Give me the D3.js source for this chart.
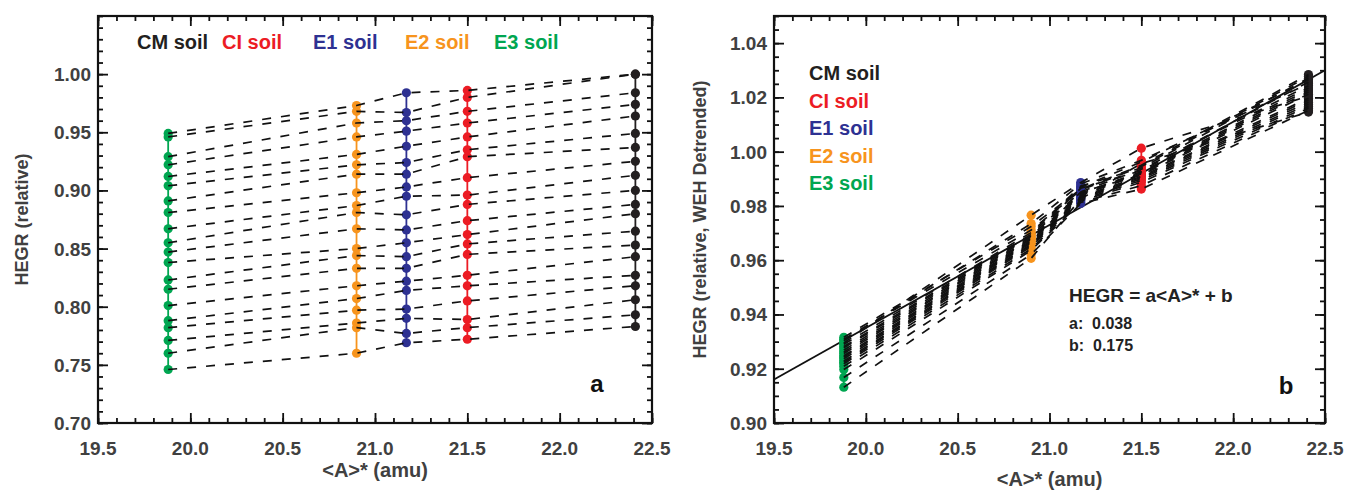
<!DOCTYPE html>
<html>
<head>
<meta charset="utf-8">
<script src="https://cdn.jsdelivr.net/npm/d3@7"></script>
<style>
  body { margin: 0; background: #fff; }
  svg { display: block; }
  text { font-family: "Liberation Sans", Arial, Helvetica, sans-serif; font-weight: bold; white-space: pre; }
</style>
</head>
<body>
<svg id="fig" width="1345" height="492"></svg>
<script>
// Soil standards: names, colours and mean atomic mass <A>* (amu)
const soils = ["CM soil", "CI soil", "E1 soil", "E2 soil", "E3 soil"];
const soilColors = ["#231f20", "#ec1c24", "#2e3192", "#f7941d", "#00a651"];
const soilA = [22.41, 21.50, 21.17, 20.90, 19.88];

// Panel a: relative HEGR, one value per measurement set (20 sets) for each soil
const hegrCM = [1.000, 1.000, 0.984, 0.974, 0.964, 0.949, 0.937, 0.925, 0.913, 0.900, 0.888, 0.880, 0.865, 0.853, 0.843, 0.827, 0.818, 0.806, 0.793, 0.783];
const hegrCI = [0.986, 0.980, 0.968, 0.958, 0.946, 0.935, 0.929, 0.911, 0.896, 0.888, 0.874, 0.862, 0.854, 0.845, 0.827, 0.818, 0.805, 0.789, 0.782, 0.772];
const hegrE1 = [0.984, 0.967, 0.960, 0.951, 0.938, 0.924, 0.914, 0.903, 0.895, 0.879, 0.866, 0.855, 0.843, 0.833, 0.822, 0.814, 0.798, 0.790, 0.777, 0.769];
const hegrE2 = [0.973, 0.968, 0.958, 0.946, 0.931, 0.922, 0.914, 0.898, 0.887, 0.881, 0.867, 0.850, 0.844, 0.833, 0.818, 0.807, 0.797, 0.786, 0.782, 0.760];
const hegrE3 = [0.949, 0.946, 0.929, 0.922, 0.912, 0.904, 0.891, 0.881, 0.867, 0.855, 0.847, 0.838, 0.823, 0.815, 0.801, 0.788, 0.782, 0.771, 0.760, 0.746];

// Panel b: relative HEGR after WEH detrending (same 20 measurement sets)
const detCM = [1.0205, 1.0284, 1.0278, 1.0250, 1.0271, 1.0265, 1.0243, 1.0257, 1.0235, 1.0227, 1.0220, 1.0212, 1.0197, 1.0190, 1.0182, 1.0175, 1.0167, 1.0160, 1.0152, 1.0146];
const detCI = [1.0013, 0.9950, 0.9945, 0.9968, 0.9940, 0.9962, 0.9935, 0.9930, 0.9926, 0.9922, 0.9918, 0.9914, 0.9909, 0.9905, 0.9900, 0.9894, 0.9887, 0.9875, 0.9862, 0.9956];
const detE1 = [0.9886, 0.9862, 0.9858, 0.9881, 0.9873, 0.9869, 0.9852, 0.9865, 0.9847, 0.9843, 0.9839, 0.9851, 0.9835, 0.9831, 0.9827, 0.9822, 0.9818, 0.9813, 0.9809, 0.9826];
const detE2 = [0.9766, 0.9724, 0.9711, 0.9735, 0.9702, 0.9695, 0.9690, 0.9686, 0.9681, 0.9677, 0.9672, 0.9668, 0.9664, 0.9659, 0.9655, 0.9650, 0.9642, 0.9636, 0.9621, 0.9607];
const detE3 = [0.9295, 0.9316, 0.9309, 0.9303, 0.9290, 0.9282, 0.9277, 0.9269, 0.9262, 0.9256, 0.9248, 0.9243, 0.9237, 0.9229, 0.9224, 0.9218, 0.9209, 0.9197, 0.9168, 0.9132];

// Linear fit HEGR = a<A>* + b
const fitA = 0.038;
const fitB = 0.175;

// Axis ticks
const xMajor = [19.5, 20.0, 20.5, 21.0, 21.5, 22.0, 22.5];
const xLabels = ["19.5", "20.0", "20.5", "21.0", "21.5", "22.0", "22.5"];
const yMajorA = [0.70, 0.75, 0.80, 0.85, 0.90, 0.95, 1.00];
const yLabelsA = ["0.70", "0.75", "0.80", "0.85", "0.90", "0.95", "1.00"];
const yMajorB = [0.90, 0.92, 0.94, 0.96, 0.98, 1.00, 1.02, 1.04];
const yLabelsB = ["0.90", "0.92", "0.94", "0.96", "0.98", "1.00", "1.02", "1.04"];

const svg = d3.select("#fig");
const ink = "#111";
const labelInk = "#404040";

function steps(lo, hi, st) {
  const out = [];
  const n = Math.round((hi - lo) / st);
  for (let i = 0; i <= n; i++) out.push(+(lo + i * st).toFixed(4));
  return out;
}

function drawPanel(opt) {
  const g = svg.append("g");
  const x = d3.scaleLinear().domain([19.5, 22.5]).range([opt.left, opt.right]);
  const y = d3.scaleLinear().domain(opt.yDomain).range([opt.bottom, opt.top]);

  const clipId = "clip-" + opt.key;
  svg.append("defs").append("clipPath").attr("id", clipId)
    .append("rect").attr("x", opt.left).attr("y", opt.top)
    .attr("width", opt.right - opt.left).attr("height", opt.bottom - opt.top);

  // Axes on all four sides, ticks pointing inward
  const xMinor = steps(19.5, 22.5, 0.1);
  const yMinor = steps(opt.yDomain[0], opt.yDomain[1], opt.yMinorStep);
  const mk = (axis, scale, vals, len) => axis(scale).tickValues(vals).tickSize(len).tickFormat("");
  const axes = [
    [d3.axisTop, x, opt.bottom, 0, xMinor, 5],
    [d3.axisTop, x, opt.bottom, 0, xMajor, 10],
    [d3.axisBottom, x, opt.top, 0, xMinor, 5],
    [d3.axisBottom, x, opt.top, 0, xMajor, 10],
    [d3.axisRight, y, 0, opt.left, yMinor, 5],
    [d3.axisRight, y, 0, opt.left, opt.yMajor, 10],
    [d3.axisLeft, y, 0, opt.right, yMinor, 5],
    [d3.axisLeft, y, 0, opt.right, opt.yMajor, 10]
  ];
  axes.forEach(([ax, sc, ty, tx, vals, len]) => {
    const a = g.append("g").attr("transform", `translate(${tx},${ty})`).call(mk(ax, sc, vals, len));
    a.select(".domain").remove();
    a.selectAll("line").attr("stroke", ink).attr("stroke-width", 1.8);
  });
  g.append("rect").attr("x", opt.left).attr("y", opt.top)
    .attr("width", opt.right - opt.left).attr("height", opt.bottom - opt.top)
    .attr("fill", "none").attr("stroke", ink).attr("stroke-width", 2.2);

  // Tick labels
  g.selectAll(".xl").data(xMajor).join("text")
    .attr("x", d => x(d)).attr("y", opt.bottom + 32)
    .attr("text-anchor", "middle").attr("font-size", 19).attr("fill", labelInk)
    .text((d, i) => xLabels[i]);
  g.selectAll(".yl").data(opt.yMajor).join("text")
    .attr("x", opt.left - 7).attr("y", d => y(d) + 7)
    .attr("text-anchor", "end").attr("font-size", 19).attr("fill", labelInk)
    .text((d, i) => opt.yLabels[i]);

  // Axis titles
  g.append("text").attr("x", (opt.left + opt.right) / 2).attr("y", opt.xTitleY)
    .attr("text-anchor", "middle").attr("font-size", 20).attr("fill", labelInk)
    .text("<A>* (amu)");
  g.append("text")
    .attr("transform", `translate(${opt.yTitleX},${(opt.top + opt.bottom) / 2}) rotate(-90)`)
    .attr("text-anchor", "middle").attr("font-size", 18).attr("fill", labelInk)
    .text(opt.yTitle);

  // Panel letter
  g.append("text").attr("x", opt.letterX).attr("y", opt.letterY)
    .attr("text-anchor", "middle").attr("font-size", 24).attr("fill", ink)
    .text(opt.key);

  const plot = g.append("g").attr("clip-path", `url(#${clipId})`);

  // Fit line (panel b)
  if (opt.fit) {
    plot.append("line")
      .attr("x1", x(19.5)).attr("y1", y(fitA * 19.5 + fitB))
      .attr("x2", x(22.5)).attr("y2", y(fitA * 22.5 + fitB))
      .attr("stroke", ink).attr("stroke-width", 1.8);
  }

  // Each soil: coloured vertical connector and its points
  const line = d3.line().x(d => x(d[0])).y(d => y(d[1]));
  opt.values.forEach((vals, s) => {
    const pts = vals.map(v => [soilA[s], v]).sort((a, b) => a[1] - b[1]);
    plot.append("path").attr("d", line(pts))
      .attr("fill", "none").attr("stroke", soilColors[s]).attr("stroke-width", 1.8);
    plot.selectAll(null).data(pts).join("circle")
      .attr("cx", d => x(d[0])).attr("cy", d => y(d[1])).attr("r", 4.6)
      .attr("fill", soilColors[s]);
  });

  // Dashed line per measurement set, from E3 through E2, E1, CI to CM
  const order = [4, 3, 2, 1, 0];
  const nSets = opt.values[0].length;
  for (let k = 0; k < nSets; k++) {
    const pts = order.map(s => [soilA[s], opt.values[s][k]]);
    plot.append("path").attr("d", line(pts))
      .attr("fill", "none").attr("stroke", ink).attr("stroke-width", 1.7)
      .attr("stroke-dasharray", "9,10");
  }

  return { g, x, y };
}

// Panel a
const pa = drawPanel({
  key: "a", left: 98, right: 652, top: 16, bottom: 423,
  yDomain: [0.70, 1.05], yMajor: yMajorA, yLabels: yLabelsA, yMinorStep: 0.01,
  values: [hegrCM, hegrCI, hegrE1, hegrE2, hegrE3],
  xTitleY: 477, yTitleX: 28, yTitle: "HEGR (relative)",
  letterX: 597, letterY: 392, fit: false
});
// Legend across the top of panel a
const legendAx = [137, 222, 313, 405, 494];
pa.g.selectAll(".lga").data(soils).join("text")
  .attr("x", (d, i) => legendAx[i]).attr("y", 49)
  .attr("font-size", 20).attr("fill", (d, i) => soilColors[i])
  .text(d => d);

// Panel b
const pb = drawPanel({
  key: "b", left: 774, right: 1325, top: 16, bottom: 423,
  yDomain: [0.90, 1.05], yMajor: yMajorB, yLabels: yLabelsB, yMinorStep: 0.005,
  values: [detCM, detCI, detE1, detE2, detE3],
  xTitleY: 486, yTitleX: 706, yTitle: "HEGR (relative, WEH Detrended)",
  letterX: 1286, letterY: 394, fit: true
});
// Stacked legend in panel b
pb.g.selectAll(".lgb").data(soils).join("text")
  .attr("x", 809).attr("y", (d, i) => 80 + i * 27.5)
  .attr("font-size", 20).attr("fill", (d, i) => soilColors[i])
  .text(d => d);

// Fit equation and coefficients
const eq = pb.g.append("g").attr("fill", "#222");
eq.append("text").attr("x", 1069).attr("y", 302).attr("font-size", 19).text("HEGR = a<A>* + b");
eq.append("text").attr("x", 1069).attr("y", 329).attr("font-size", 16).text("a:  " + fitA.toFixed(3));
eq.append("text").attr("x", 1069).attr("y", 351).attr("font-size", 16).text("b:  " + fitB.toFixed(3));
</script>
</body>
</html>
